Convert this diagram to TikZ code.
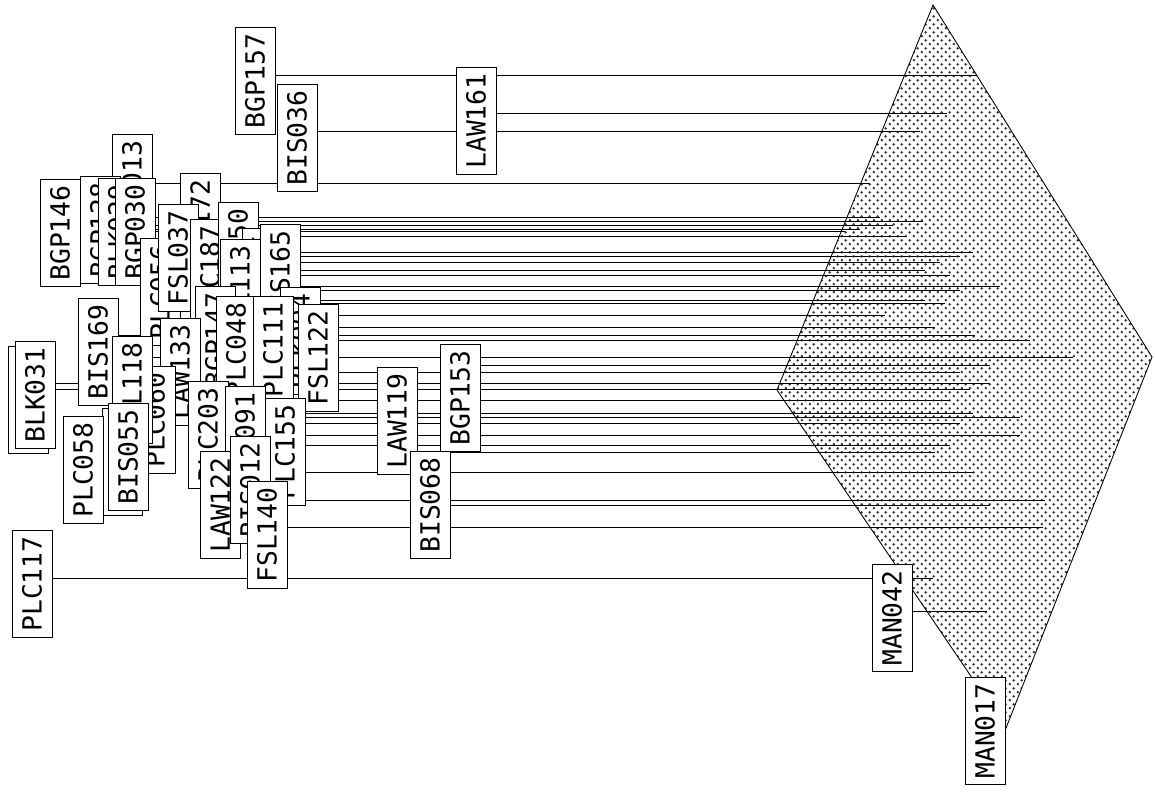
\documentclass[tikz,border=0pt]{standalone}
\usepackage{fontspec}
\setmonofont{DejaVu Sans Mono}
\usetikzlibrary{patterns.meta,backgrounds}

\tikzdeclarepattern{
  name=stipple,
  bottom left={(0pt,0pt)},
  top right={(4.7pt,4.7pt)},
  tile size={(4.7pt,4.7pt)},
  code={
    \fill (1.175pt,1.175pt) circle (0.85pt);
    \fill (3.525pt,3.525pt) circle (0.85pt);
  }
}

\begin{document}
\begin{tikzpicture}[
    x=0.02cm, y=-0.02cm,
    leaf/.style={draw,fill=white,rotate=90,line width=0.5pt,
      font=\ttfamily\fontsize{15}{15}\selectfont,
      minimum width=2.14cm,minimum height=0.8cm,inner sep=0pt},
    link/.style={line width=0.5pt}
]
\useasboundingbox (0,0) rectangle (1155,791);

% the cluster shape
\begin{scope}[on background layer]
\coordinate (apex) at (933,5);
\coordinate (tipR) at (1152,357);
\coordinate (tipB) at (1006,728);
\coordinate (tipL) at (777,390);
\draw[line width=0.5pt,pattern=stipple,pattern color=black!80] (apex) -- (tipR) -- (tipB) -- (tipL) -- cycle;
\end{scope}

% labels
\node[leaf] (BGP157) at (255,81) {BGP157};
\node[leaf] (BIS036) at (297,138) {BIS036};
\node[leaf] (LAW161) at (476,121) {LAW161};
\node[leaf] (BLK013) at (132,188) {BLK013};
\node[leaf] (BGP146) at (60,233) {BGP146};
\node[leaf] (BGP128) at (100,230) {BGP128};
\node[leaf] (BLK029) at (118,232) {BLK029};
\node[leaf] (BGP030) at (135,232) {BGP030};
\node[leaf] (BLK172) at (200,227) {BLK172};
\node[leaf] (PLC056) at (160,292) {PLC056};
\node[leaf] (FSL037) at (178,258) {FSL037};
\node[leaf] (PLC187) at (210,273) {PLC187};
\node[leaf] (FSL150) at (238,256) {FSL150};
\node[leaf] (LAW145) at (262,282) {LAW145};
\node[leaf] (BIS165) at (280,278) {BIS165};
\node[leaf] (FSL113) at (240,293) {FSL113};
\node[leaf] (BGP147) at (215,340) {BGP147};
\node[leaf] (BLK004) at (300,341) {BLK004};
\node[leaf] (PLC048) at (236,350) {PLC048};
\node[leaf] (PLC111) at (273,350) {PLC111};
\node[leaf] (FSL122) at (318,358) {FSL122};
\node[leaf] (BIS169) at (98,352) {BIS169};
\node[leaf] (LAW133) at (180,372) {LAW133};
\node[leaf] (BLK032) at (28,400) {BLK032};
\node[leaf] (BLK031) at (35,395) {BLK031};
\node[leaf] (PLC060) at (155,420) {PLC060};
\node[leaf] (FSL118) at (132,390) {FSL118};
\node[leaf] (BIS142) at (122,462) {BIS142};
\node[leaf] (BIS055) at (128,457) {BIS055};
\node[leaf] (PLC058) at (83,470) {PLC058};
\node[leaf] (PLC203) at (208,435) {PLC203};
\node[leaf] (PLC091) at (245,440) {PLC091};
\node[leaf] (PLC155) at (285,452) {PLC155};
\node[leaf] (LAW122) at (220,505) {LAW122};
\node[leaf] (BIS012) at (250,490) {BIS012};
\node[leaf] (LAW119) at (397,421) {LAW119};
\node[leaf] (BGP153) at (460,398) {BGP153};
\node[leaf] (FSL140) at (267,535) {FSL140};
\node[leaf] (BIS068) at (430,505) {BIS068};
\node[leaf] (PLC117) at (32,584) {PLC117};
\node[leaf] (MAN042) at (892,618) {MAN042};
\node[leaf] (MAN017) at (985,731) {MAN017};

% where each link stops inside the shape
\coordinate (eBGP157) at (977,75);
\coordinate (eBIS036) at (920,131);
\coordinate (eLAW161) at (947,113);
\coordinate (eBLK013) at (870,183);
\coordinate (eBGP146) at (860,229);
\coordinate (eBGP128) at (893,225);
\coordinate (eBLK029) at (845,231);
\coordinate (eBGP030) at (880,217);
\coordinate (eBLK172) at (923,221);
\coordinate (ePLC056) at (940,262);
\coordinate (eFSL037) at (960,256);
\coordinate (ePLC187) at (925,270);
\coordinate (eFSL150) at (905,236);
\coordinate (eLAW145) at (950,275);
\coordinate (eBIS165) at (973,252);
\coordinate (eFSL113) at (1000,286);
\coordinate (eBGP147) at (960,290);
\coordinate (eBLK004) at (925,300);
\coordinate (ePLC048) at (945,303);
\coordinate (ePLC111) at (885,315);
\coordinate (eFSL122) at (935,327);
\coordinate (eBIS169) at (975,335);
\coordinate (eLAW133) at (1030,340);
\coordinate (eBLK032) at (970,389);
\coordinate (eBLK031) at (990,383);
\coordinate (ePLC060) at (950,400);
\coordinate (eFSL118) at (1073,357);
\coordinate (eBIS142) at (973,413);
\coordinate (eBIS055) at (960,372);
\coordinate (ePLC058) at (960,423);
\coordinate (ePLC203) at (1020,417);
\coordinate (ePLC091) at (1020,435);
\coordinate (ePLC155) at (950,445);
\coordinate (eLAW122) at (1045,500);
\coordinate (eBIS012) at (973,472);
\coordinate (eLAW119) at (935,452);
\coordinate (eBGP153) at (990,365);
\coordinate (eFSL140) at (1043,527);
\coordinate (eBIS068) at (990,505);
\coordinate (ePLC117) at (933,578);
\coordinate (eMAN042) at (987,611);

% links, behind the labels
\begin{scope}[on background layer]
\draw[link] (BGP157.south |- eBGP157) -- (eBGP157);
\draw[link] (BIS036.south |- eBIS036) -- (eBIS036);
\draw[link] (LAW161.south |- eLAW161) -- (eLAW161);
\draw[link] (BLK013.south |- eBLK013) -- (eBLK013);
\draw[link] (BGP146.south |- eBGP146) -- (eBGP146);
\draw[link] (BGP128.south |- eBGP128) -- (eBGP128);
\draw[link] (BLK029.south |- eBLK029) -- (eBLK029);
\draw[link] (BGP030.south |- eBGP030) -- (eBGP030);
\draw[link] (BLK172.south |- eBLK172) -- (eBLK172);
\draw[link] (PLC056.south |- ePLC056) -- (ePLC056);
\draw[link] (FSL037.south |- eFSL037) -- (eFSL037);
\draw[link] (PLC187.south |- ePLC187) -- (ePLC187);
\draw[link] (FSL150.south |- eFSL150) -- (eFSL150);
\draw[link] (LAW145.south |- eLAW145) -- (eLAW145);
\draw[link] (BIS165.south |- eBIS165) -- (eBIS165);
\draw[link] (FSL113.south |- eFSL113) -- (eFSL113);
\draw[link] (BGP147.south |- eBGP147) -- (eBGP147);
\draw[link] (BLK004.south |- eBLK004) -- (eBLK004);
\draw[link] (PLC048.south |- ePLC048) -- (ePLC048);
\draw[link] (PLC111.south |- ePLC111) -- (ePLC111);
\draw[link] (FSL122.south |- eFSL122) -- (eFSL122);
\draw[link] (BIS169.south |- eBIS169) -- (eBIS169);
\draw[link] (LAW133.south |- eLAW133) -- (eLAW133);
\draw[link] (BLK032.south |- eBLK032) -- (eBLK032);
\draw[link] (BLK031.south |- eBLK031) -- (eBLK031);
\draw[link] (PLC060.south |- ePLC060) -- (ePLC060);
\draw[link] (FSL118.south |- eFSL118) -- (eFSL118);
\draw[link] (BIS142.south |- eBIS142) -- (eBIS142);
\draw[link] (BIS055.south |- eBIS055) -- (eBIS055);
\draw[link] (PLC058.south |- ePLC058) -- (ePLC058);
\draw[link] (PLC203.south |- ePLC203) -- (ePLC203);
\draw[link] (PLC091.south |- ePLC091) -- (ePLC091);
\draw[link] (PLC155.south |- ePLC155) -- (ePLC155);
\draw[link] (LAW122.south |- eLAW122) -- (eLAW122);
\draw[link] (BIS012.south |- eBIS012) -- (eBIS012);
\draw[link] (LAW119.south |- eLAW119) -- (eLAW119);
\draw[link] (BGP153.south |- eBGP153) -- (eBGP153);
\draw[link] (FSL140.south |- eFSL140) -- (eFSL140);
\draw[link] (BIS068.south |- eBIS068) -- (eBIS068);
\draw[link] (PLC117.south |- ePLC117) -- (ePLC117);
\draw[link] (MAN042.south |- eMAN042) -- (eMAN042);
\end{scope}

\end{tikzpicture}
\end{document}
